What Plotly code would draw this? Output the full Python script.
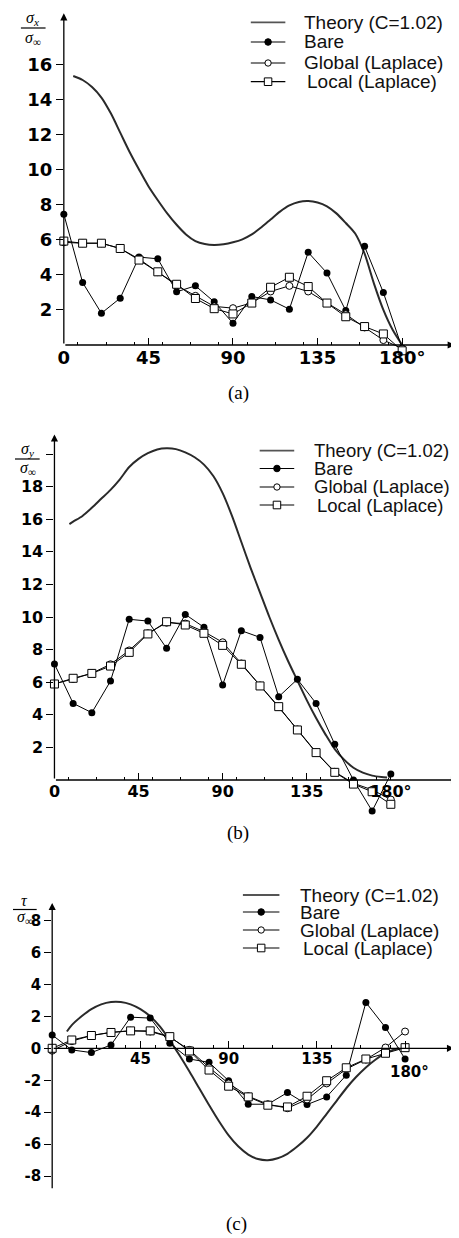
import plotly.graph_objects as go

W, H = 459, 1238          # page size
OFF = 8                   # default body margin of the html page
FW, FH = W - OFF, H - OFF

# ---------------- data ----------------
angles = [0, 10, 20, 30, 40, 50, 60, 70, 80, 90, 100, 110, 120, 130, 140, 150, 160, 170, 180]

# (a) sigma_x / sigma_inf
a_theory_x = [5, 10, 15, 20, 25, 30, 35, 40, 45, 50, 55, 60, 65, 70, 75, 80, 85, 90,
              95, 100, 105, 110, 115, 120, 125, 130, 135, 140, 145, 150, 155, 160, 165, 170, 175, 180]
a_theory_y = [15.33, 15.1, 14.7, 14.1, 13.2, 12.1, 11.0, 10.0, 9.05, 8.25, 7.5, 6.85, 6.3, 5.92, 5.75, 5.7, 5.74, 5.85,
              6.02, 6.3, 6.7, 7.15, 7.6, 7.95, 8.15, 8.2, 8.12, 7.9, 7.5, 6.95, 6.35, 5.2, 3.5, 2.0, 0.85, 0.0]
a_bare = [7.45, 3.56, 1.81, 2.67, 5.01, 4.91, 3.03, 3.37, 2.46, 1.24, 2.76, 2.57, 2.04, 5.28, 4.10, 1.96, 5.62, 2.99, -0.19]
a_global = [5.85, 5.8, 5.8, 5.5, 4.9, 4.15, 3.4, 2.8, 2.2, 2.1, 2.4, 3.05, 3.37, 3.05, 2.4, 1.75, 1.0, 0.28, -0.2]
a_local = [5.92, 5.8, 5.8, 5.5, 4.84, 4.17, 3.46, 2.65, 2.07, 1.77, 2.39, 3.29, 3.86, 3.33, 2.39, 1.61, 1.05, 0.63, -0.33]

# (b) sigma_y / sigma_inf
b_theory_x = [8, 10, 15, 20, 25, 30, 35, 40, 45, 50, 55, 60, 65, 70, 75, 80, 85, 90,
              95, 100, 105, 110, 115, 120, 125, 130, 135, 140, 145, 150, 155, 160, 165, 170, 175, 178]
b_theory_y = [15.7, 15.85, 16.2, 16.7, 17.25, 17.8, 18.45, 19.2, 19.7, 20.05, 20.28, 20.35, 20.3, 20.1, 19.8, 19.35, 18.65, 17.6,
              16.2, 14.6, 13.0, 11.5, 10.0, 8.6, 7.3, 6.1, 4.9, 3.8, 2.8, 1.9, 1.25, 0.75, 0.45, 0.27, 0.18, 0.15]
b_bare = [7.12, 4.70, 4.13, 6.07, 9.86, 9.75, 8.08, 10.16, 9.37, 5.83, 9.16, 8.75, 5.11, 6.18, 4.70, 2.19, 0.0, -1.9, 0.37]
b_global = [5.9, 6.2, 6.55, 7.1, 7.95, 9.0, 9.65, 9.6, 9.1, 8.45, 7.15, 5.8, 4.5, 3.1, 1.7, 0.5, -0.2, -0.6, -1.2]
b_local = [5.89, 6.24, 6.54, 6.99, 7.83, 8.96, 9.71, 9.51, 9.0, 8.26, 7.10, 5.77, 4.50, 3.07, 1.68, 0.47, -0.25, -0.72, -1.49]

# (c) tau / sigma_inf
c_theory_x = [7.5, 10, 15, 20, 25, 30, 35, 40, 45, 50, 55, 60, 65, 70, 75, 80, 85, 90,
              95, 100, 105, 110, 115, 120, 125, 130, 135, 140, 145, 150, 155, 160, 165, 170, 175, 177]
c_theory_y = [1.05, 1.45, 2.0, 2.45, 2.75, 2.9, 2.9, 2.75, 2.45, 2.0, 1.35, 0.5, -0.45, -1.45, -2.5, -3.55, -4.55, -5.45,
              -6.15, -6.65, -6.93, -7.0, -6.88, -6.6, -6.15, -5.6, -4.9, -4.1, -3.3, -2.5, -1.8, -1.2, -0.7, -0.3, -0.05, 0.0]
c_bare = [0.83, -0.10, -0.27, 0.21, 1.95, 1.89, 0.31, -0.67, -0.88, -2.03, -3.50, -3.5, -2.77, -3.52, -3.04, -1.68, 2.87, 1.30, -0.67]
c_global = [-0.15, 0.45, 0.8, 1.0, 1.1, 1.05, 0.7, -0.1, -1.2, -2.2, -3.0, -3.5, -3.75, -3.2, -2.2, -1.3, -0.7, 0.05, 1.05]
c_local = [0.0, 0.52, 0.80, 0.99, 1.09, 1.09, 0.73, -0.17, -1.36, -2.37, -3.04, -3.56, -3.67, -3.0, -2.03, -1.22, -0.67, -0.31, 0.04]

series_names = ["Theory (C=1.02)", "Bare", "Global (Laplace)", "Local (Laplace)"]

a_yticks = [2, 4, 6, 8, 10, 12, 14, 16]
b_yticks = [2, 4, 6, 8, 10, 12, 14, 16, 18, 20]
b_yticktext = ["2", "4", "6", "8", "10", "12", "14", "16", "18", ""]
c_yticks = [-8, -6, -4, -2, 0, 2, 4, 6, 8]
minor_x = [7.5, 22.5, 37.5, 52.5, 67.5, 82.5, 97.5, 112.5, 127.5, 142.5, 157.5, 172.5]

# ---------------- geometry (page pixels) ----------------
def PX(px):
    return (px - OFF) / FW

def PY(py):
    return 1 - (py - OFF) / FH

panels = {
    "a": dict(x0=58.5, xs=1.905, xmax=208, y0=345, ys=17.55, ymin=-0.8, ymax=18.9, fs=18),
    "b": dict(x0=49, xs=1.894, xmax=216, y0=780, ys=16.3, ymin=-2.6, ymax=21.2, fs=16),
    "c": dict(x0=46.7, xs=1.987, xmax=205, y0=1048.3, ys=15.98, ymin=-8.85, ymax=9.1, fs=15),
}

fig = go.Figure()
BLACK = "black"
THEORY_COLOR = "#2a2a2a"

def add_panel(idx, tx, ty, bare, glob, loc):
    xa = "x" if idx == 1 else f"x{idx}"
    ya = "y" if idx == 1 else f"y{idx}"
    fig.add_trace(go.Scatter(x=tx, y=ty, mode="lines", name=series_names[0], showlegend=False,
                             line=dict(color=THEORY_COLOR, width=2, shape="spline", smoothing=0.8),
                             xaxis=xa, yaxis=ya))
    fig.add_trace(go.Scatter(x=angles, y=bare, mode="lines+markers", name=series_names[1], showlegend=False,
                             line=dict(color=BLACK, width=1),
                             marker=dict(symbol="circle", size=7, color=BLACK),
                             cliponaxis=False, xaxis=xa, yaxis=ya))
    fig.add_trace(go.Scatter(x=angles, y=glob, mode="lines+markers", name=series_names[2], showlegend=False,
                             line=dict(color=BLACK, width=1),
                             marker=dict(symbol="circle", size=7, color="white",
                                         line=dict(color=BLACK, width=1)),
                             cliponaxis=False, xaxis=xa, yaxis=ya))
    fig.add_trace(go.Scatter(x=angles, y=loc, mode="lines+markers", name=series_names[3], showlegend=False,
                             line=dict(color=BLACK, width=1),
                             marker=dict(symbol="square", size=8, color="white",
                                         line=dict(color=BLACK, width=1)),
                             cliponaxis=False, xaxis=xa, yaxis=ya))

add_panel(1, a_theory_x, a_theory_y, a_bare, a_global, a_local)
add_panel(2, b_theory_x, b_theory_y, b_bare, b_global, b_local)
add_panel(3, c_theory_x, c_theory_y, c_bare, c_global, c_local)

layout = dict(width=FW, height=FH, margin=dict(l=0, r=0, t=0, b=0), showlegend=False,
              paper_bgcolor="white", plot_bgcolor="rgba(0,0,0,0)")

annotations = []
shapes = []

xtick_cfg = {
    "a": ([0, 45, 90, 135, 180], ["0", "45", "90", "135", "180°"]),
    "b": ([0, 45, 90, 135, 180], ["0", "45", "90", "135", "180°"]),
    "c": ([45, 90, 135, 180], ["45", "90", "135", ""]),
}
ytick_cfg = {
    "a": (a_yticks, [str(v) for v in a_yticks]),
    "b": (b_yticks, b_yticktext),
    "c": (c_yticks, [str(v) for v in c_yticks]),
}

for idx, key in enumerate(["a", "b", "c"], start=1):
    p = panels[key]
    xd = [PX(p["x0"]), PX(p["x0"] + p["xmax"] * p["xs"])]
    yd = [PY(p["y0"] - p["ymin"] * p["ys"]), PY(p["y0"] - p["ymax"] * p["ys"])]
    xname = "xaxis" if idx == 1 else f"xaxis{idx}"
    yname = "yaxis" if idx == 1 else f"yaxis{idx}"
    xr = "x" if idx == 1 else f"x{idx}"
    yr = "y" if idx == 1 else f"y{idx}"
    tv, tt = xtick_cfg[key]
    layout[xname] = dict(domain=xd, range=[0, p["xmax"]], anchor="free", position=PY(p["y0"]),
                         showline=False, showgrid=False, zeroline=False,
                         ticks="inside", ticklen=7, tickwidth=1.2, tickcolor=BLACK,
                         tickmode="array", tickvals=tv, ticktext=tt,
                         tickfont=dict(family="DejaVu Sans", size=p["fs"], color=BLACK, weight="bold"),
                         minor=dict(tickmode="array", tickvals=minor_x, ticks="inside",
                                    ticklen=3.5, tickwidth=1, tickcolor=BLACK))
    yv, yt = ytick_cfg[key]
    layout[yname] = dict(domain=yd, range=[p["ymin"], p["ymax"]], anchor=xr,
                         showline=False, showgrid=False, zeroline=False,
                         ticks="outside", ticklen=7, tickwidth=1.2, tickcolor=BLACK,
                         tickmode="array", tickvals=yv, ticktext=yt,
                         tickfont=dict(family="DejaVu Sans", size=p["fs"], color=BLACK, weight="bold"))
    # axis lines with arrow heads
    annotations.append(dict(x=p["xmax"], y=0, ax=0, ay=0, xref=xr, yref=yr, axref=xr, ayref=yr,
                            text="", showarrow=True, arrowhead=2, arrowsize=1.1, arrowwidth=1.3,
                            arrowcolor=BLACK))
    ytail = 0 if key != "c" else p["ymin"]
    annotations.append(dict(x=0, y=p["ymax"], ax=0, ay=ytail, xref=xr, yref=yr, axref=xr, ayref=yr,
                            text="", showarrow=True, arrowhead=2, arrowsize=1.1, arrowwidth=1.3,
                            arrowcolor=BLACK))

# ---------------- legends (drawn per panel) ----------------
legend_geo = {
    # sym_x0, sym_x1, text_x, row y's, font size
    "a": (248, 283, 300, [22.3, 42, 63, 81.7], 19),
    "b": (257, 292, 310, [450.7, 468.5, 487, 505], 18.5),
    "c": (240, 277, 296, [895, 912, 930, 948], 19),
}
for key, (sx0, sx1, tx, rows, lfs) in legend_geo.items():
    for i, (name, ry) in enumerate(zip(series_names, rows)):
        lw = 1.8 if i == 0 else 1.2
        col = "#555" if i == 0 else BLACK
        shapes.append(dict(type="line", xref="paper", yref="paper", x0=PX(sx0), x1=PX(sx1),
                           y0=PY(ry), y1=PY(ry), line=dict(color=col, width=lw)))
        cx = (sx0 + sx1) / 2
        if i == 1:
            r = 3.3
            shapes.append(dict(type="circle", xref="paper", yref="paper", x0=PX(cx - r), x1=PX(cx + r),
                               y0=PY(ry + r), y1=PY(ry - r), fillcolor=BLACK, line=dict(color=BLACK, width=1)))
        elif i == 2:
            r = 3.2
            shapes.append(dict(type="circle", xref="paper", yref="paper", x0=PX(cx - r), x1=PX(cx + r),
                               y0=PY(ry + r), y1=PY(ry - r), fillcolor="white", line=dict(color=BLACK, width=1)))
        elif i == 3:
            r = 3.8
            shapes.append(dict(type="rect", xref="paper", yref="paper", x0=PX(cx - r), x1=PX(cx + r),
                               y0=PY(ry + r), y1=PY(ry - r), fillcolor="white", line=dict(color=BLACK, width=1)))
        annotations.append(dict(x=PX(tx + (3 if i == 3 else 0)), y=PY(ry), xref="paper", yref="paper",
                                text=name, showarrow=False, xanchor="left", yanchor="middle",
                                font=dict(family="Liberation Sans", size=lfs, color="#111")))

# ---------------- y-axis fraction titles ----------------
def frac(cx, num_y, num_html, line_y, den_y, x_l, x_r):
    annotations.append(dict(x=PX(cx), y=PY(num_y), xref="paper", yref="paper", text=num_html,
                            showarrow=False, xanchor="center", yanchor="middle",
                            font=dict(family="Liberation Serif", size=16, color=BLACK)))
    annotations.append(dict(x=PX(cx), y=PY(den_y), xref="paper", yref="paper",
                            text="<i>σ</i><sub>∞</sub>", showarrow=False, xanchor="center", yanchor="middle",
                            font=dict(family="Liberation Serif", size=16, color=BLACK)))
    shapes.append(dict(type="line", xref="paper", yref="paper", x0=PX(x_l), x1=PX(x_r),
                       y0=PY(line_y), y1=PY(line_y), line=dict(color=BLACK, width=1.2)))

frac(27, 19, "<i>σ<sub>x</sub></i>", 28, 39, 15, 40)
frac(22, 449, "<i>σ<sub>y</sub></i>", 459, 469, 9, 34)
frac(19, 900, "<i>τ</i>", 909.5, 917, 7, 31)

# lowered 180° label for panel (c)
annotations.append(dict(x=180, y=PY(1072), xref="x3", yref="paper", text="180°", showarrow=False,
                        xanchor="center", yanchor="middle", xshift=4,
                        font=dict(family="DejaVu Sans", size=15, color=BLACK, weight="bold")))

# captions
for txt, cx, cy in [("(a)", 236, 393), ("(b)", 235, 833), ("(c)", 233, 1224)]:
    annotations.append(dict(x=PX(cx), y=PY(cy), xref="paper", yref="paper", text=txt,
                            showarrow=False, xanchor="center", yanchor="middle",
                            font=dict(family="Liberation Serif", size=19, color=BLACK)))

layout["annotations"] = annotations
layout["shapes"] = shapes
fig.update_layout(**layout)
fig.write_html("out.html")
